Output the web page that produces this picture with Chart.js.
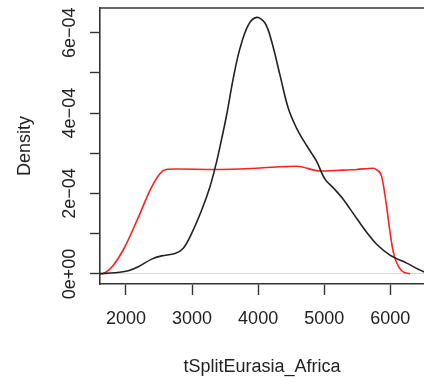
<!DOCTYPE html>
<html>
<head>
<meta charset="utf-8">
<script src="https://cdn.jsdelivr.net/npm/chart.js@4/dist/chart.umd.min.js"></script>
<style>
  body { margin: 0; background: #fff; }
  canvas { display: block; }
</style>
</head>
<body>
<canvas id="densityChart" width="424" height="385"></canvas>
<script>
// Posterior density (black)
const postX = [1500, 1607, 1834, 2035, 2186, 2389, 2540, 2742, 2867, 2994, 3146, 3271, 3373, 3448, 3524, 3624, 3725, 3851, 3978, 4104, 4205, 4330, 4456, 4583, 4683, 4810, 4886, 5011, 5150, 5287, 5390, 5500, 5650, 5793, 5995, 6248, 6499, 6650];
const postY = [0, 0.01e-4, 0.03e-4, 0.08e-4, 0.18e-4, 0.37e-4, 0.45e-4, 0.51e-4, 0.64e-4, 1.01e-4, 1.59e-4, 2.17e-4, 2.80e-4, 3.36e-4, 3.96e-4, 4.87e-4, 5.61e-4, 6.19e-4, 6.38e-4, 6.24e-4, 5.78e-4, 4.95e-4, 4.12e-4, 3.62e-4, 3.33e-4, 3.00e-4, 2.80e-4, 2.36e-4, 2.12e-4, 1.86e-4, 1.62e-4, 1.36e-4, 1.02e-4, 0.74e-4, 0.47e-4, 0.27e-4, 0.06e-4, 0.02e-4];

// Prior density (red)
const priorX = [1632, 1700, 1800, 1972, 2172, 2378, 2517, 2605, 2767, 3347, 3978, 4583, 4936, 5239, 5491, 5742, 5794, 5870, 5945, 5995, 6045, 6096, 6172, 6298];
const priorY = [0, 0.05e-4, 0.2e-4, 0.64e-4, 1.35e-4, 2.13e-4, 2.50e-4, 2.60e-4, 2.61e-4, 2.60e-4, 2.63e-4, 2.68e-4, 2.56e-4, 2.58e-4, 2.60e-4, 2.63e-4, 2.59e-4, 2.42e-4, 1.67e-4, 1.05e-4, 0.55e-4, 0.28e-4, 0.08e-4, 0];

// Axis ticks
const xTicks = [2000, 3000, 4000, 5000, 6000];
const yTicks = [0, 1e-4, 2e-4, 3e-4, 4e-4, 5e-4, 6e-4];

const toPoints = (xs, ys) => xs.map((x, i) => ({ x: x, y: ys[i] }));

// R style labels: 0e+00, 2e-04 ...
function sciLabel(v) {
  const n = Math.round(v / 1e-4);
  if (n === 0) return "0e+00";
  if (n % 2 !== 0) return "";
  return n + "e\u221204";
}

// Top border of the plot box
const boxPlugin = {
  id: "boxTop",
  afterDraw: (chart) => {
    const { ctx, chartArea } = chart;
    ctx.save();
    ctx.strokeStyle = "#333";
    ctx.lineWidth = 1.6;
    ctx.beginPath();
    ctx.moveTo(chartArea.left, chartArea.top);
    ctx.lineTo(chartArea.right, chartArea.top);
    ctx.stroke();
    ctx.restore();
  },
};

const ctx = document.getElementById("densityChart").getContext("2d");
const fontFam = "'Liberation Sans', Arial, sans-serif";

new Chart(ctx, {
  type: "line",
  data: {
    datasets: [
      {
        label: "posterior",
        data: toPoints(postX, postY),
        borderColor: "#222",
        borderWidth: 1.6,
        pointRadius: 0,
        tension: 0.35,
      },
      {
        label: "prior",
        data: toPoints(priorX, priorY),
        borderColor: "#ff2020",
        borderWidth: 1.6,
        pointRadius: 0,
        cubicInterpolationMode: "monotone",
      },
    ],
  },
  options: {
    responsive: false,
    animation: false,
    devicePixelRatio: 1,
    layout: { padding: { left: 0, right: 0, top: 8, bottom: 0 } },
    plugins: {
      legend: { display: false },
      tooltip: { enabled: false },
    },
    scales: {
      x: {
        type: "linear",
        min: 1607,
        max: 6510,
        afterBuildTicks: (scale) => {
          scale.ticks = xTicks.map((v) => ({ value: v }));
        },
        afterFit: (scale) => {
          scale.height = 101;
        },
        border: { display: true, color: "#333", width: 1.6 },
        grid: {
          drawOnChartArea: false,
          drawTicks: true,
          tickLength: 11,
          tickColor: "#333",
          tickWidth: 1.4,
        },
        ticks: {
          autoSkip: false,
          maxRotation: 0,
          padding: 13,
          color: "#222",
          font: { family: fontFam, size: 18 },
          callback: (v) => String(v),
        },
        title: {
          display: true,
          text: "tSplitEurasia_Africa",
          color: "#222",
          font: { family: fontFam, size: 18 },
          padding: { top: 0, bottom: 7 },
        },
      },
      y: {
        type: "linear",
        min: -0.249e-4,
        max: 6.614e-4,
        afterBuildTicks: (scale) => {
          scale.ticks = yTicks.map((v) => ({ value: v }));
        },
        afterFit: (scale) => {
          scale.width = 100;
        },
        border: { display: true, color: "#333", width: 1.6 },
        grid: {
          drawOnChartArea: true,
          drawTicks: true,
          tickLength: 10,
          color: (c) => (c.tick && c.tick.value === 0 ? "#d8d8d8" : "rgba(0,0,0,0)"),
          tickColor: "#333",
          tickWidth: 1.4,
        },
        ticks: {
          autoSkip: false,
          minRotation: 90,
          maxRotation: 90,
          crossAlign: "center",
          padding: -5,
          color: "#222",
          font: { family: fontFam, size: 18 },
          callback: (v) => sciLabel(v),
        },
        title: {
          display: true,
          text: "Density",
          color: "#222",
          font: { family: fontFam, size: 18 },
          padding: { top: 14, bottom: 0 },
        },
      },
    },
  },
  plugins: [boxPlugin],
});
</script>
</body>
</html>
